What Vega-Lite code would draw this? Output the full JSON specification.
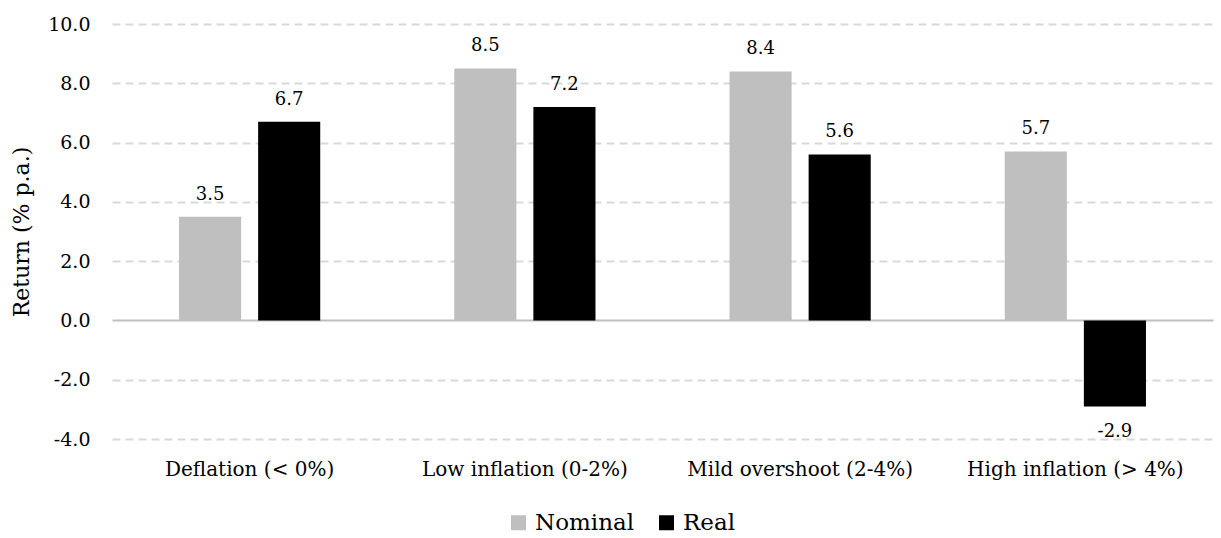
{
  "$schema": "https://vega.github.io/schema/vega-lite/v6.json",
  "autosize": {"type": "none"},
  "width": 1101,
  "height": 415,
  "padding": {"left": 112, "top": 24, "right": 8, "bottom": 99},
  "background": "white",
  "config": {
    "font": "DejaVu Serif",
    "view": {"stroke": null},
    "locale": {"number": {"decimal": ".", "thousands": ",", "grouping": [3], "currency": ["$", ""], "minus": "-"}}
  },
  "data": {
    "values": [
      {"regime": "Deflation (< 0%)", "series": "Nominal", "value": 3.5},
      {"regime": "Deflation (< 0%)", "series": "Real", "value": 6.7},
      {"regime": "Low inflation (0-2%)", "series": "Nominal", "value": 8.5},
      {"regime": "Low inflation (0-2%)", "series": "Real", "value": 7.2},
      {"regime": "Mild overshoot (2-4%)", "series": "Nominal", "value": 8.4},
      {"regime": "Mild overshoot (2-4%)", "series": "Real", "value": 5.6},
      {"regime": "High inflation (> 4%)", "series": "Nominal", "value": 5.7},
      {"regime": "High inflation (> 4%)", "series": "Real", "value": -2.9}
    ]
  },
  "encoding": {
    "x": {
      "field": "regime", "type": "nominal", "sort": null,
      "scale": {"paddingInner": 0.487, "paddingOuter": 0.2435},
      "axis": {
        "title": null, "labelAngle": 0, "domain": false, "ticks": false, "labelLimit": 0,
        "labelFont": "DejaVu Serif",
        "labelFontSize": 20, "labelColor": "#000000", "labelPadding": 20
      }
    },
    "xOffset": {
      "field": "series", "type": "nominal", "sort": ["Nominal", "Real"],
      "scale": {"paddingInner": 0.215, "paddingOuter": 0}
    },
    "y": {
      "field": "value", "type": "quantitative",
      "scale": {"domain": [-4, 10], "nice": false, "zero": false},
      "axis": {
        "title": "Return (% p.a.)", "titleFontSize": 22, "titleFontWeight": "normal",
        "titleFont": "DejaVu Serif",
        "titleColor": "#000000", "titlePadding": 14,
        "values": [-4, -2, 0, 2, 4, 6, 8, 10], "format": ".1f",
        "labelFont": "DejaVu Serif",
        "labelFontSize": 19, "labelColor": "#000000", "labelPadding": 22,
        "domain": false, "ticks": false,
        "grid": true,
        "gridColor": {"condition": {"test": "datum.value === 0", "value": "#bfbfbf"}, "value": "#d9d9d9"},
        "gridDash": {"condition": {"test": "datum.value === 0", "value": []}, "value": [8, 5]},
        "gridWidth": 2
      }
    }
  },
  "layer": [
    {
      "mark": {"type": "bar"},
      "encoding": {
        "color": {
          "field": "series", "type": "nominal",
          "scale": {"domain": ["Nominal", "Real"], "range": ["#bfbfbf", "#000000"]},
          "legend": {
            "title": null, "orient": "none", "direction": "horizontal",
            "legendX": 395, "legendY": 487,
            "symbolType": "square", "symbolSize": 225, "symbolStrokeWidth": 0,
            "labelFont": "DejaVu Serif",
            "labelFontSize": 23, "labelColor": "#000000", "labelOffset": 5,
            "columnPadding": 20
          }
        }
      }
    },
    {
      "transform": [{"filter": "datum.value >= 0"}],
      "mark": {"type": "text", "font": "DejaVu Serif", "baseline": "alphabetic", "dy": -17, "fontSize": 18, "color": "#000000"},
      "encoding": {"text": {"field": "value", "type": "quantitative", "format": ".1f"}}
    },
    {
      "transform": [{"filter": "datum.value < 0"}],
      "mark": {"type": "text", "font": "DejaVu Serif", "baseline": "top", "dy": 17, "fontSize": 18, "color": "#000000"},
      "encoding": {"text": {"field": "value", "type": "quantitative", "format": ".1f"}}
    }
  ]
}
